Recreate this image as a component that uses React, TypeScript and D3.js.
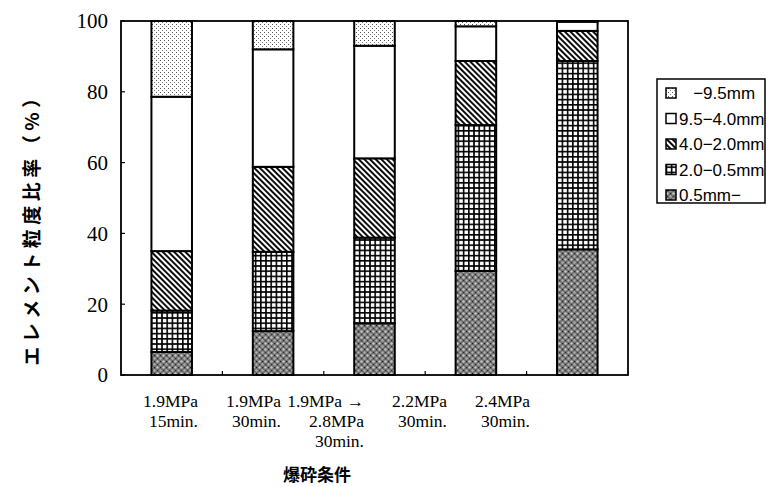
import { useEffect } from 'react';
import * as d3 from 'd3';

// 爆砕条件 (categories), each label split into lines
const categories = ['c1', 'c2', 'c3', 'c4', 'c5'];
const categoryLines: string[][] = [
  ['1.9MPa', '15min.'],
  ['1.9MPa', '30min.'],
  ['1.9MPa →', '2.8MPa', '30min.'],
  ['2.2MPa', '30min.'],
  ['2.4MPa', '30min.'],
];

// size classes, bottom to top of each stack
const sizeClasses = ['0.5mm-', '2.0-0.5mm', '4.0-2.0mm', '9.5-4.0mm', '-9.5mm'];
const legendLabels = ['   −9.5mm', '9.5−4.0mm', '4.0−2.0mm', '2.0−0.5mm', '0.5mm−'];

// percentage of each size class per condition
const fine05 = [6.5, 12.4, 14.6, 29.4, 35.5];
const mid205 = [11.7, 22.4, 24.2, 41.2, 53.2];
const mid420 = [16.8, 24.0, 22.4, 18.1, 8.5];
const mid954 = [43.6, 33.2, 31.8, 9.8, 2.6];
const coarse95 = [21.4, 8.0, 7.0, 1.5, 0.2];

const yTicks = [0, 20, 40, 60, 80, 100];

const patternIds: Record<string, string> = {
  '0.5mm-': 'url(#pFine)',
  '2.0-0.5mm': 'url(#pGrid)',
  '4.0-2.0mm': 'url(#pHatch)',
  '9.5-4.0mm': '#ffffff',
  '-9.5mm': 'url(#pDots)',
};

export default function App() {
  useEffect(() => {
    document.body.style.margin = '0';
  }, []);

  const width = 767;
  const height = 487;
  const left = 121;
  const right = 628;
  const top = 21;
  const bottom = 375;

  const x = d3.scaleBand().domain(categories).range([left, right]).paddingInner(0.6).paddingOuter(0.3);
  const xOuter = d3.scaleBand().domain(categories).range([left, right]);
  const y = d3.scaleLinear().domain([0, 100]).range([bottom, top]);
  const labelX = d3.scalePoint().domain(categories).range([198, 530]);

  const rows = categories.map((c, i) => ({
    cat: c,
    '0.5mm-': fine05[i],
    '2.0-0.5mm': mid205[i],
    '4.0-2.0mm': mid420[i],
    '9.5-4.0mm': mid954[i],
    '-9.5mm': coarse95[i],
  }));
  const stacked = d3.stack<any>().keys(sizeClasses)(rows);

  const serif = 'Liberation Serif, DejaVu Serif, serif';
  const sans = 'Liberation Sans, Arial, sans-serif';
  const cjk = 'Noto Sans CJK JP, sans-serif';

  const legendX = 657;
  const legendY = 79;
  const legendRow = 25.5;
  // legend lists top class first
  const legendOrder = [4, 3, 2, 1, 0];

  return (
    <svg width={width} height={height} style={{ display: 'block', background: '#fff' }}>
      <defs>
        <pattern id="pDots" width={4} height={4} patternUnits="userSpaceOnUse">
          <rect width={4} height={4} fill="#fff" />
          <rect x={0} y={0} width={1} height={1} fill="#555" />
          <rect x={2} y={2} width={1} height={1} fill="#777" />
        </pattern>
        <pattern id="pHatch" width={4} height={4} patternUnits="userSpaceOnUse" patternTransform="rotate(-45)">
          <rect width={4} height={4} fill="#fff" />
          <line x1={1} y1={0} x2={1} y2={4} stroke="#000" strokeWidth={1.9} />
        </pattern>
        <pattern id="pGrid" width={5.2} height={5.2} patternUnits="userSpaceOnUse">
          <rect width={5.2} height={5.2} fill="#000" />
          <rect x={1.6} y={1.6} width={3.6} height={3.6} fill="#fff" />
        </pattern>
        <pattern id="pFine" width={6} height={6} patternUnits="userSpaceOnUse">
          <rect width={6} height={6} fill="#6e6e6e" />
          <circle cx={1.5} cy={1.5} r={1.2} fill="#c8c8c8" />
          <circle cx={4.5} cy={4.5} r={1.2} fill="#b0b0b0" />
          <rect x={4} y={1} width={1.2} height={1.2} fill="#222" />
          <rect x={1} y={4} width={1.2} height={1.2} fill="#333" />
        </pattern>
      </defs>

      {/* bars */}
      {stacked.map((layer) => (
        <g key={layer.key}>
          {layer.map((d, i) =>
            d[1] - d[0] > 0.05 ? (
              <rect
                key={i}
                x={x(categories[i])}
                y={y(d[1])}
                width={x.bandwidth()}
                height={y(d[0]) - y(d[1])}
                fill={patternIds[layer.key as string]}
                stroke="#000"
                strokeWidth={2}
              />
            ) : null
          )}
        </g>
      ))}

      {/* frame */}
      <rect x={left} y={top} width={right - left} height={bottom - top} fill="none" stroke="#000" strokeWidth={1.8} />

      {/* y ticks */}
      {yTicks.map((t) => (
        <g key={t}>
          <line x1={left} x2={left + 4} y1={y(t)} y2={y(t)} stroke="#000" strokeWidth={1.2} />
          <text x={108} y={y(t)} dy="0.35em" textAnchor="end" fontFamily={serif} fontSize={21}>
            {t}
          </text>
        </g>
      ))}

      {/* x ticks between categories */}
      {categories.slice(1).map((c) => (
        <line key={c} x1={xOuter(c)} x2={xOuter(c)} y1={bottom} y2={bottom - 4} stroke="#000" strokeWidth={1.2} />
      ))}

      {/* x labels */}
      {categories.map((c, i) => (
        <text key={c} textAnchor="end" fontFamily={serif} fontSize={17.5} x={labelX(c)}>
          {categoryLines[i].map((ln, j) => (
            <tspan key={j} x={labelX(c)} y={407 + j * 20}>
              {ln}
            </tspan>
          ))}
        </text>
      ))}

      {/* axis titles */}
      <text x={317} y={481} textAnchor="middle" fontFamily={cjk} fontWeight="bold" fontSize={17}>
        爆砕条件
      </text>
      <text
        transform={`translate(32,225) rotate(-90)`}
        textAnchor="middle"
        dy="0.35em"
        fontFamily={cjk}
        fontWeight="bold"
        fontSize={19}
        letterSpacing={4.5}
      >
        エレメント粒度比率（%）
      </text>

      {/* legend */}
      <rect x={legendX} y={legendY} width={108} height={124} fill="#fff" stroke="#000" strokeWidth={1.5} />
      {legendOrder.map((k, i) => {
        const cy = legendY + 14 + i * legendRow;
        return (
          <g key={k}>
            <rect x={666} y={cy - 5} width={10} height={10} fill={patternIds[sizeClasses[k]]} stroke="#000" strokeWidth={1.5} />
            <text x={679} y={cy} dy="0.36em" fontFamily={sans} fontSize={17} style={{ whiteSpace: 'pre' }}>
              {legendLabels[i]}
            </text>
          </g>
        );
      })}
    </svg>
  );
}
